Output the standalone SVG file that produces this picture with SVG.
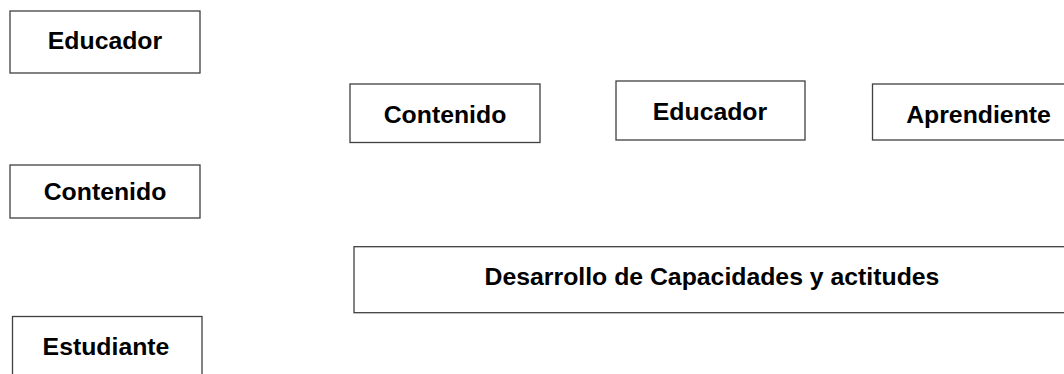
<svg xmlns="http://www.w3.org/2000/svg" width="1064" height="374" viewBox="0 0 1064 374">
<style>
.box{fill:#ffffff;stroke:#404040;stroke-width:1.3}
.lbl{font-family:"Liberation Sans",Arial,sans-serif;font-weight:bold;font-size:24.8px;fill:#000000;text-anchor:middle}
</style>
<rect x="0" y="0" width="1064" height="374" fill="#ffffff"/>
<g id="educador-1"><rect class="box" x="10" y="11" width="190" height="62"/><text class="lbl" x="105" y="48.5">Educador</text></g>
<g id="contenido-1"><rect class="box" x="10" y="165" width="190" height="53"/><text class="lbl" x="105" y="199.5">Contenido</text></g>
<g id="estudiante"><rect class="box" x="12.5" y="316.5" width="189.5" height="70"/><text class="lbl" x="106" y="354.5">Estudiante</text></g>
<g id="contenido-2"><rect class="box" x="350" y="84" width="190" height="58.5"/><text class="lbl" x="445" y="122.7">Contenido</text></g>
<g id="educador-2"><rect class="box" x="616" y="81" width="189" height="59"/><text class="lbl" x="710" y="119.5">Educador</text></g>
<g id="aprendiente"><rect class="box" x="872.5" y="84" width="212" height="56"/><text class="lbl" x="978.5" y="122.7">Aprendiente</text></g>
<g id="desarrollo"><rect class="box" x="354" y="246.7" width="716" height="66"/><text class="lbl" x="712" y="285">Desarrollo de Capacidades y actitudes</text></g>
<g id="connectors"></g>
</svg>
